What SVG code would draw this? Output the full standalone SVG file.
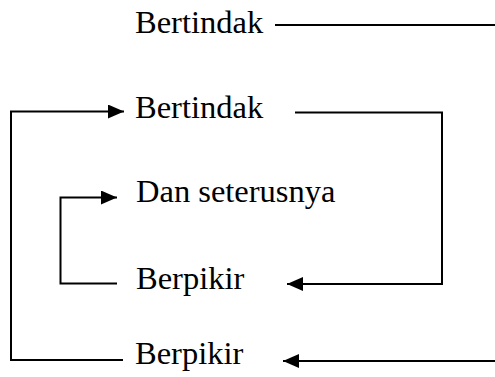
<svg xmlns="http://www.w3.org/2000/svg" width="495" height="377" viewBox="0 0 495 377">
  <style>
    .label { font-family: "Liberation Serif", "Times New Roman", serif; font-size: 32.5px; fill: #000; }
    .wire { fill: none; stroke: #000; stroke-width: 2; stroke-linecap: butt; stroke-linejoin: miter; }
  </style>
  <defs>
    <marker id="head" markerUnits="userSpaceOnUse" markerWidth="17" markerHeight="14" refX="16" refY="7" orient="auto">
      <path d="M0,0 L16,7 L0,14 Z" fill="#000"/>
    </marker>
  </defs>
  <rect width="495" height="377" fill="#fff"/>

  <g id="connectors">
    <path class="wire" d="M275,25 H495"/>
    <path class="wire" d="M123,360 H11 V111.5 H124" marker-end="url(#head)"/>
    <path class="wire" d="M295,112.5 H442 V284 H287" marker-end="url(#head)"/>
    <path class="wire" d="M117,283.5 H60.5 V197.5 H117" marker-end="url(#head)"/>
    <path class="wire" d="M495,361 H283" marker-end="url(#head)"/>
  </g>

  <g id="bertindak-top"><text class="label" x="135" y="33">Bertindak</text></g>
  <g id="bertindak"><text class="label" x="135" y="118">Bertindak</text></g>
  <g id="dan-seterusnya"><text class="label" x="136" y="202">Dan seterusnya</text></g>
  <g id="berpikir"><text class="label" x="136" y="289">Berpikir</text></g>
  <g id="berpikir-bottom"><text class="label" x="135" y="364">Berpikir</text></g>
</svg>
